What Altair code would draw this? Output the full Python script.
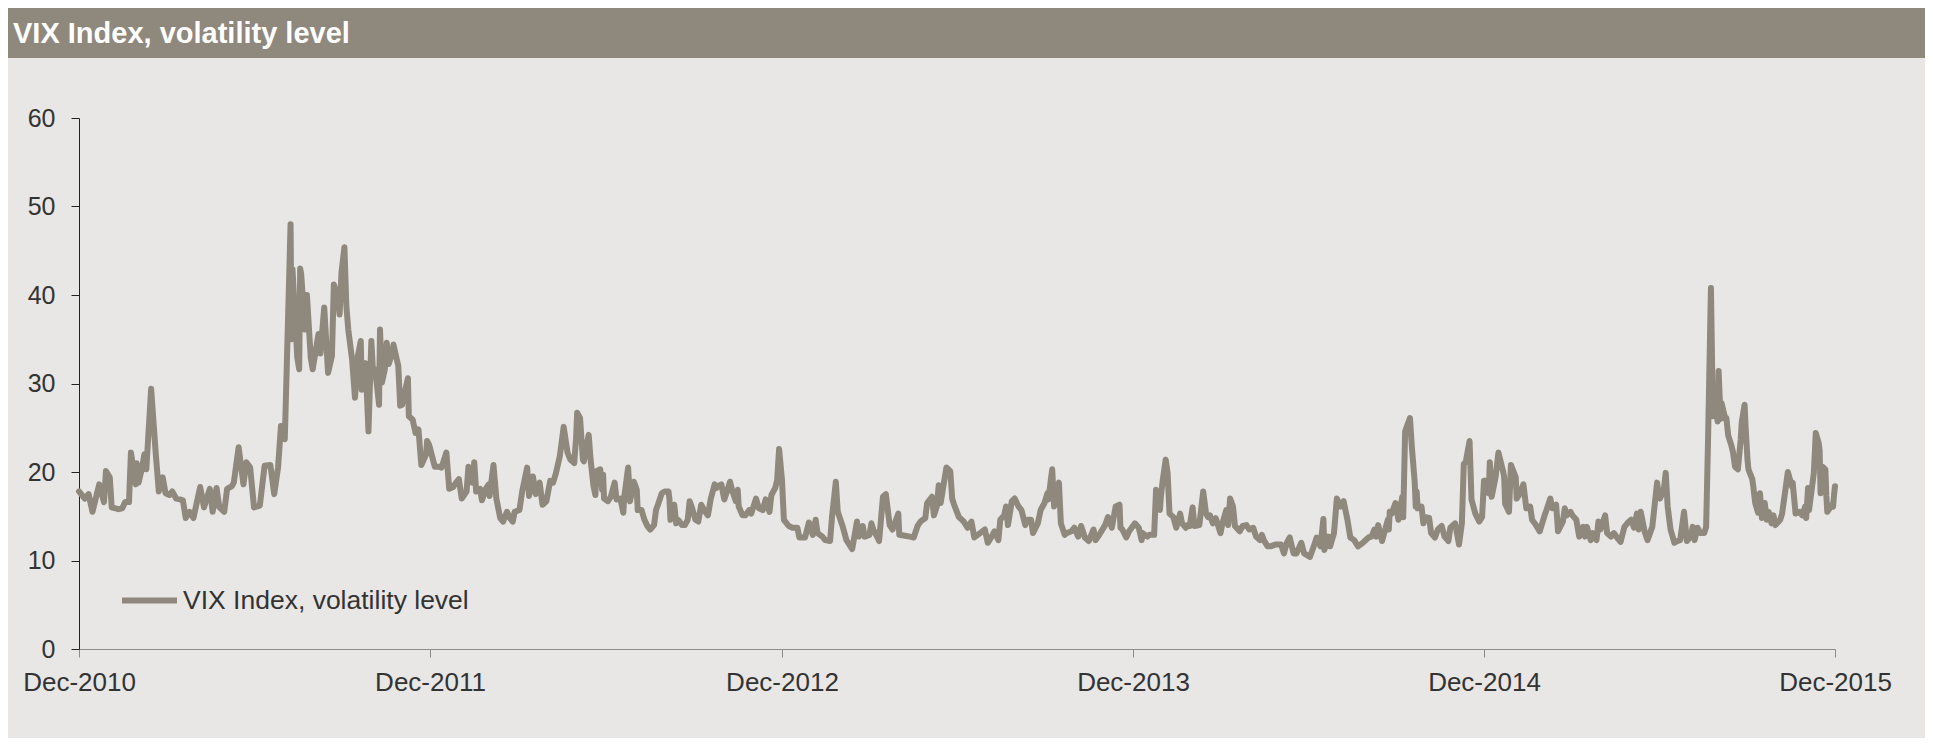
import altair as alt
import pandas as pd

SERIES = "VIX Index, volatility level"
TITLE = "VIX Index, volatility level"
X_TICK_YEARS = [2010, 2011, 2012, 2013, 2014, 2015]
Y_TICKS = [0, 10, 20, 30, 40, 50, 60]

vix_2010 = [("12-31", 17.8)]

vix_2011 = [
    ("01-06", 17.0), ("01-10", 17.5), ("01-14", 15.5), ("01-21", 18.6), ("01-26", 16.6),
    ("01-28", 20.1), ("02-01", 19.4), ("02-03", 16.0), ("02-10", 15.8), ("02-14", 15.9),
    ("02-17", 16.6), ("02-21", 16.6), ("02-23", 22.2), ("02-28", 18.6), ("03-01", 21.0),
    ("03-03", 18.8), ("03-07", 20.7), ("03-09", 22.0), ("03-11", 20.3), ("03-16", 29.4),
    ("03-21", 21.8), ("03-24", 17.8), ("03-28", 19.4), ("03-31", 17.6), ("04-04", 17.4),
    ("04-07", 17.8), ("04-11", 17.0), ("04-15", 16.9), ("04-18", 16.8), ("04-21", 14.8),
    ("04-25", 15.5), ("04-29", 14.8), ("05-06", 18.3), ("05-10", 16.0), ("05-16", 18.1),
    ("05-19", 15.5), ("05-23", 18.2), ("05-26", 16.0), ("05-31", 15.5), ("06-03", 18.1),
    ("06-08", 18.4), ("06-10", 18.8), ("06-15", 22.8), ("06-20", 18.6), ("06-23", 21.1),
    ("06-27", 20.5), ("07-01", 16.0), ("07-07", 16.2), ("07-12", 20.7), ("07-18", 20.8),
    ("07-22", 17.5), ("07-26", 20.5), ("07-29", 25.2), ("08-02", 23.7), ("08-04", 31.7),
    ("08-08", 48.0), ("08-09", 35.0), ("08-10", 42.9), ("08-15", 32.9), ("08-17", 31.6),
    ("08-18", 43.0), ("08-19", 42.4), ("08-23", 36.1), ("08-25", 40.0), ("08-29", 32.9),
    ("08-31", 31.6), ("09-06", 35.6), ("09-08", 33.4), ("09-12", 38.6), ("09-16", 31.2),
    ("09-20", 33.1), ("09-22", 41.2), ("09-26", 39.9), ("09-28", 37.8), ("09-30", 42.6),
    ("10-03", 45.4), ("10-05", 38.8), ("10-07", 36.1), ("10-11", 32.7), ("10-14", 28.4),
    ("10-17", 33.1), ("10-20", 34.8), ("10-21", 29.3), ("10-25", 32.3), ("10-28", 24.6),
    ("10-31", 34.8), ("11-02", 30.8), ("11-04", 31.6), ("11-08", 27.6), ("11-09", 36.1),
    ("11-11", 30.1), ("11-14", 31.6), ("11-16", 34.6), ("11-18", 32.2), ("11-22", 33.5),
    ("11-23", 34.4), ("11-28", 32.0), ("11-30", 27.5), ("12-02", 27.6), ("12-08", 30.6),
    ("12-09", 26.3), ("12-13", 25.9), ("12-16", 24.4), ("12-19", 24.8), ("12-22", 20.8),
    ("12-27", 22.0), ("12-28", 23.5), ("12-30", 23.1),
]

vix_2012 = [
    ("01-05", 20.6), ("01-09", 20.6), ("01-12", 20.5), ("01-17", 22.2), ("01-20", 18.1),
    ("01-24", 18.3), ("01-27", 18.8), ("01-30", 19.2), ("02-02", 17.0), ("02-07", 17.8),
    ("02-09", 20.6), ("02-13", 18.8), ("02-15", 21.1), ("02-17", 17.8), ("02-21", 18.1),
    ("02-23", 16.8), ("02-27", 18.1), ("03-01", 18.6), ("03-02", 17.3), ("03-06", 20.8),
    ("03-09", 17.0), ("03-13", 14.8), ("03-16", 14.4), ("03-20", 15.5), ("03-23", 14.8),
    ("03-26", 14.4), ("03-28", 15.5), ("04-02", 15.7), ("04-05", 17.9), ("04-10", 20.5),
    ("04-12", 17.3), ("04-16", 19.5), ("04-19", 17.5), ("04-23", 18.8), ("04-26", 16.3),
    ("04-30", 16.7), ("05-04", 19.0), ("05-07", 18.8), ("05-10", 19.9), ("05-14", 21.8),
    ("05-18", 25.1), ("05-22", 22.2), ("05-25", 21.4), ("05-29", 21.0), ("05-31", 24.0),
    ("06-01", 26.7), ("06-04", 26.1), ("06-07", 21.4), ("06-08", 21.2), ("06-13", 24.2),
    ("06-15", 21.4), ("06-18", 18.4), ("06-20", 17.4), ("06-21", 20.1), ("06-25", 20.3),
    ("06-27", 18.0), ("06-28", 19.7), ("06-29", 17.0), ("07-03", 16.7), ("07-06", 17.2),
    ("07-10", 18.8), ("07-12", 16.9), ("07-16", 17.0), ("07-19", 15.4), ("07-20", 17.2),
    ("07-24", 20.5), ("07-26", 16.7), ("07-30", 18.9), ("08-02", 18.0), ("08-03", 15.7),
    ("08-07", 15.7), ("08-10", 14.6), ("08-13", 13.9), ("08-16", 13.5), ("08-20", 14.0),
    ("08-22", 15.7), ("08-24", 16.3), ("08-28", 17.6), ("08-31", 17.8), ("09-04", 17.8),
    ("09-05", 16.9), ("09-06", 14.6), ("09-10", 16.3), ("09-12", 14.2), ("09-14", 14.6),
    ("09-18", 14.0), ("09-21", 14.0), ("09-24", 14.6), ("09-26", 16.7), ("09-28", 16.1),
    ("10-02", 14.6), ("10-05", 14.4), ("10-08", 16.3), ("10-11", 15.7), ("10-15", 15.1),
    ("10-18", 17.0), ("10-22", 18.6), ("10-24", 18.2), ("10-25", 18.4), ("10-29", 18.6),
    ("11-01", 16.9), ("11-05", 18.2), ("11-07", 18.9), ("11-09", 18.0), ("11-13", 16.7),
    ("11-15", 18.0), ("11-16", 16.1), ("11-20", 15.1), ("11-23", 15.1), ("11-27", 15.7),
    ("11-29", 15.3), ("12-04", 17.0), ("12-07", 15.9), ("12-11", 15.7), ("12-14", 16.9),
    ("12-18", 15.5), ("12-20", 17.4), ("12-24", 18.2), ("12-26", 19.1), ("12-28", 22.6),
    ("12-31", 19.1),
]

vix_2013 = [
    ("01-02", 14.6), ("01-07", 13.9), ("01-11", 13.7), ("01-16", 13.7), ("01-18", 12.6),
    ("01-24", 12.6), ("01-28", 14.3), ("02-01", 12.9), ("02-04", 14.6), ("02-06", 13.1),
    ("02-11", 12.7), ("02-14", 12.3), ("02-19", 12.2), ("02-21", 14.9), ("02-25", 18.9),
    ("02-27", 15.5), ("03-04", 13.9), ("03-08", 12.3), ("03-14", 11.3), ("03-19", 14.4),
    ("03-21", 12.7), ("03-25", 13.9), ("03-27", 12.7), ("04-01", 12.9), ("04-03", 14.2),
    ("04-05", 13.5), ("04-11", 12.2), ("04-15", 17.2), ("04-18", 17.5), ("04-22", 14.0),
    ("04-25", 13.5), ("04-26", 13.8), ("05-01", 15.3), ("05-02", 12.9), ("05-08", 12.8),
    ("05-13", 12.7), ("05-17", 12.6), ("05-21", 13.9), ("05-24", 14.4), ("05-29", 14.8),
    ("05-31", 16.5), ("06-05", 17.2), ("06-07", 15.1), ("06-10", 16.1), ("06-12", 18.5),
    ("06-14", 16.5), ("06-20", 20.5), ("06-24", 20.1), ("06-26", 17.0), ("06-28", 16.3),
    ("07-03", 14.9), ("07-08", 14.4), ("07-12", 13.7), ("07-16", 14.4), ("07-19", 12.6),
    ("07-25", 13.1), ("07-30", 13.5), ("08-02", 12.0), ("08-06", 12.7), ("08-09", 13.3),
    ("08-13", 12.3), ("08-15", 14.6), ("08-19", 15.1), ("08-21", 16.1), ("08-23", 14.0),
    ("08-27", 16.7), ("08-30", 17.0), ("09-03", 16.1), ("09-06", 15.7), ("09-10", 14.0),
    ("09-12", 14.6), ("09-16", 14.6), ("09-18", 13.1), ("09-23", 14.2), ("09-26", 15.7),
    ("09-30", 16.5), ("10-03", 17.6), ("10-04", 16.9), ("10-08", 20.3), ("10-10", 16.1),
    ("10-15", 18.8), ("10-17", 14.2), ("10-21", 12.9), ("10-23", 13.1), ("10-28", 13.3),
    ("10-31", 13.7), ("11-04", 12.7), ("11-07", 13.9), ("11-11", 12.6), ("11-15", 12.2),
    ("11-20", 13.5), ("11-22", 12.3), ("11-26", 12.9), ("12-02", 14.0), ("12-05", 14.9),
    ("12-09", 13.7), ("12-12", 15.5), ("12-13", 16.1), ("12-17", 16.3), ("12-18", 13.7),
    ("12-20", 13.5), ("12-24", 12.6), ("12-27", 13.3),
]

vix_2014 = [
    ("01-02", 14.2), ("01-06", 13.7), ("01-09", 12.3), ("01-10", 13.1), ("01-15", 12.7),
    ("01-17", 12.9), ("01-22", 12.9), ("01-24", 18.0), ("01-28", 15.7), ("01-29", 17.2),
    ("01-31", 19.1), ("02-03", 21.4), ("02-05", 19.9), ("02-07", 15.3), ("02-11", 14.9),
    ("02-14", 13.7), ("02-18", 15.3), ("02-20", 14.2), ("02-24", 13.7), ("02-26", 14.0),
    ("02-28", 13.9), ("03-03", 16.0), ("03-05", 13.9), ("03-10", 14.0), ("03-14", 17.8),
    ("03-17", 15.3), ("03-19", 14.9), ("03-21", 15.1), ("03-24", 14.2), ("03-27", 14.8),
    ("04-01", 13.1), ("04-03", 14.2), ("04-07", 15.7), ("04-09", 14.0), ("04-11", 17.0),
    ("04-14", 16.1), ("04-16", 13.9), ("04-21", 13.3), ("04-24", 13.9), ("04-28", 14.0),
    ("05-01", 13.5), ("05-05", 13.7), ("05-08", 12.7), ("05-12", 12.3), ("05-14", 12.9),
    ("05-16", 12.3), ("05-20", 11.6), ("05-23", 11.6), ("05-28", 11.8), ("06-03", 11.8),
    ("06-06", 10.8), ("06-09", 12.0), ("06-12", 12.6), ("06-16", 10.8), ("06-19", 10.8),
    ("06-24", 12.0), ("06-27", 10.8), ("07-03", 10.4), ("07-07", 11.6), ("07-10", 12.6),
    ("07-14", 11.6), ("07-17", 14.7), ("07-18", 11.2), ("07-22", 12.7), ("07-24", 11.6),
    ("07-28", 13.1), ("07-31", 17.0), ("08-04", 16.1), ("08-07", 16.7), ("08-11", 14.6),
    ("08-14", 12.6), ("08-18", 12.3), ("08-22", 11.6), ("08-27", 12.0), ("09-02", 12.6),
    ("09-05", 12.7), ("09-08", 13.5), ("09-10", 12.7), ("09-12", 14.0), ("09-16", 12.2),
    ("09-22", 14.6), ("09-23", 13.5), ("09-24", 15.5), ("09-26", 15.3), ("09-30", 16.5),
    ("10-03", 14.6), ("10-07", 17.2), ("10-08", 14.9), ("10-10", 24.6), ("10-13", 25.5),
    ("10-15", 26.1), ("10-17", 22.8), ("10-20", 18.8), ("10-21", 16.1), ("10-22", 17.8),
    ("10-23", 15.9), ("10-27", 16.1), ("10-29", 14.2), ("10-31", 14.9), ("11-04", 14.8),
    ("11-06", 13.1), ("11-10", 12.6), ("11-13", 13.5), ("11-17", 13.9), ("11-20", 12.7),
    ("11-24", 12.2), ("11-26", 13.7), ("12-01", 14.2), ("12-05", 11.8), ("12-08", 14.2),
    ("12-10", 20.9), ("12-12", 21.1), ("12-16", 23.5), ("12-18", 16.9), ("12-22", 15.3),
    ("12-26", 14.4), ("12-29", 14.9), ("12-31", 19.0),
]

vix_2015 = [
    ("01-02", 19.0), ("01-05", 17.6), ("01-06", 21.1), ("01-08", 17.2), ("01-12", 19.4),
    ("01-15", 22.2), ("01-20", 20.0), ("01-21", 19.4), ("01-22", 16.4), ("01-26", 15.5),
    ("01-28", 20.8), ("02-02", 19.4), ("02-03", 17.0), ("02-06", 17.5), ("02-10", 18.6),
    ("02-13", 15.9), ("02-17", 16.1), ("02-19", 14.6), ("02-23", 14.0), ("02-27", 13.3),
    ("03-04", 15.1), ("03-06", 15.7), ("03-10", 17.0), ("03-12", 15.9), ("03-16", 16.3),
    ("03-18", 13.3), ("03-23", 14.4), ("03-25", 15.9), ("03-27", 15.1), ("03-31", 15.5),
    ("04-02", 15.1), ("04-06", 14.6), ("04-09", 12.7), ("04-13", 13.8), ("04-15", 12.7),
    ("04-17", 13.8), ("04-21", 12.3), ("04-23", 13.1), ("04-27", 12.3), ("04-29", 14.4),
    ("05-01", 13.5), ("05-06", 15.1), ("05-08", 13.1), ("05-12", 12.7), ("05-15", 13.1),
    ("05-19", 12.5), ("05-22", 12.1), ("05-26", 13.8), ("05-29", 14.2), ("06-02", 14.6),
    ("06-05", 13.7), ("06-08", 15.3), ("06-10", 13.5), ("06-12", 15.5), ("06-16", 13.3),
    ("06-19", 12.3), ("06-24", 13.8), ("06-29", 18.8), ("07-01", 17.3), ("07-02", 17.0),
    ("07-06", 18.0), ("07-08", 19.9), ("07-10", 16.1), ("07-13", 13.5), ("07-17", 12.0),
    ("07-20", 12.2), ("07-23", 12.3), ("07-27", 15.5), ("07-30", 12.2), ("08-03", 12.7),
    ("08-05", 13.8), ("08-07", 12.3), ("08-10", 13.7), ("08-13", 13.1), ("08-17", 13.1),
    ("08-19", 13.8), ("08-21", 23.7), ("08-24", 40.8), ("08-26", 26.3), ("08-28", 27.8),
    ("08-31", 25.7), ("09-01", 31.4), ("09-03", 26.0), ("09-04", 27.8), ("09-08", 26.0),
    ("09-09", 26.1), ("09-11", 24.1), ("09-14", 23.1), ("09-16", 22.2), ("09-18", 20.6),
    ("09-21", 20.3), ("09-24", 23.7), ("09-25", 25.6), ("09-28", 27.6), ("09-29", 25.2),
    ("10-01", 21.4), ("10-02", 20.3), ("10-06", 19.2), ("10-07", 18.4), ("10-09", 16.5),
    ("10-12", 15.4), ("10-14", 17.6), ("10-16", 14.8), ("10-19", 16.5), ("10-21", 14.6),
    ("10-23", 15.5), ("10-26", 14.2), ("10-28", 15.1), ("10-30", 14.0), ("11-04", 14.6),
    ("11-06", 15.3), ("11-12", 20.0), ("11-16", 18.4), ("11-17", 18.8), ("11-20", 15.3),
    ("11-24", 15.5), ("11-27", 15.1), ("11-30", 16.1), ("12-01", 14.8), ("12-03", 18.2),
    ("12-04", 15.7), ("12-09", 19.9), ("12-11", 24.4), ("12-14", 23.3), ("12-15", 22.5),
    ("12-16", 17.6), ("12-18", 20.6), ("12-21", 20.3), ("12-22", 17.3), ("12-23", 15.5),
    ("12-28", 16.3), ("12-29", 16.1), ("12-30", 17.4), ("12-31", 18.4),
]

YEARS = [
    (2010, vix_2010), (2011, vix_2011), (2012, vix_2012),
    (2013, vix_2013), (2014, vix_2014), (2015, vix_2015),
]

rows = []
for year, pairs in YEARS:
    for md, v in pairs:
        rows.append({"date": f"{year}-{md}", "vix": v, "series": SERIES})
df = pd.DataFrame(rows)

FONT = "Liberation Sans"
BAR = "#8F887C"
LINE = "#8F887C"
BG = "#E8E7E5"
TXT = "#333333"

PLOT_W = 1756
PLOT_H = 531
PAD = {"left": 71, "top": 110, "right": 90, "bottom": 89}

label_df = pd.DataFrame({"t": [TITLE]})

bar = alt.Chart(label_df).mark_rect(color=BAR).encode(
    x=alt.value(-PAD["left"]),
    x2=alt.value(PLOT_W + PAD["right"]),
    y=alt.value(-110),
    y2=alt.value(-60),
)

title = alt.Chart(label_df).mark_text(
    align="left", baseline="alphabetic", font=FONT, fontSize=29,
    fontWeight="bold", color="white"
).encode(
    x=alt.value(-66),
    y=alt.value(-75),
    text="t:N",
)

x_domain = [alt.DateTime(year=2010, month=12, date=31, utc=True),
            alt.DateTime(year=2015, month=12, date=31, utc=True)]
x_values = [alt.DateTime(year=y, month=12, date=31, utc=True) for y in X_TICK_YEARS]

line = alt.Chart(df).mark_line(
    strokeWidth=6, strokeJoin="round", strokeCap="round"
).encode(
    x=alt.X(
        "date:T",
        scale=alt.Scale(domain=x_domain),
        axis=alt.Axis(
            title=None, values=x_values, labelExpr="utcFormat(datum.value, '%b-%Y')",
            tickSize=8, labelPadding=12, domainColor="#8C8C8C", tickColor="#8C8C8C",
            labelFont=FONT, labelFontSize=26, labelColor=TXT, grid=False,
            labelOverlap=False, labelFlush=False,
        ),
    ),
    y=alt.Y(
        "vix:Q",
        scale=alt.Scale(domain=[0, 60], nice=False),
        axis=alt.Axis(
            title=None, values=Y_TICKS, tickSize=8, labelPadding=16,
            domainColor="#222222", tickColor="#222222",
            labelFont=FONT, labelFontSize=25, labelColor=TXT, grid=False,
        ),
    ),
    color=alt.Color(
        "series:N",
        scale=alt.Scale(domain=[SERIES], range=[LINE]),
        legend=alt.Legend(
            title=None, orient="none", legendX=40, legendY=452,
            symbolType="stroke", symbolSize=3025, symbolStrokeWidth=6,
            labelFont=FONT, labelFontSize=26.5, labelColor=TXT, labelOffset=3,
            padding=0, labelLimit=600,
        ),
    ),
)

chart = alt.layer(bar, title, line).properties(
    width=PLOT_W,
    height=PLOT_H,
    background=BG,
    padding=PAD,
    autosize=alt.AutoSizeParams(type="none"),
).configure_view(stroke=None)

chart.save("out.html", embed_options={"renderer": "svg", "actions": False})
